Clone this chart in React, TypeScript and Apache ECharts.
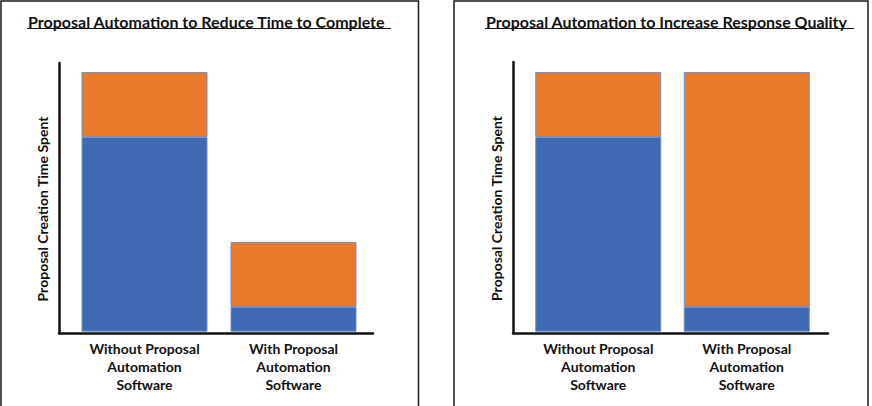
import React, { useEffect, useRef } from 'react';
import * as echarts from 'echarts';

// chart data
const categories = ['Without Proposal\nAutomation\nSoftware', 'With Proposal\nAutomation\nSoftware'];
const reduceTimeBlue = [75, 9.5];
const reduceTimeOrange = [25, 25];
const qualityBlue = [75, 9.5];
const qualityOrange = [25, 90.5];
const panelTitles = ['Proposal Automation to Reduce Time to Complete', 'Proposal Automation to Increase Response Quality'];
const yAxisTitle = 'Proposal Creation Time Spent';

const BLUE = '#3F6AB3';
const ORANGE = '#E97A29';
const BAR_BORDER = '#6E8FCB';
const INK = '#111111';
const FONT = 'Lato';

const frameAxes = (gridIndex: number) => ({
  x: {
    type: 'category',
    gridIndex,
    data: [''],
    axisLine: { show: true, lineStyle: { color: INK, width: 2.5 } },
    axisTick: { show: false },
    axisLabel: { show: false },
  },
  y: {
    type: 'value',
    gridIndex,
    min: 0,
    max: 1,
    name: yAxisTitle,
    nameLocation: 'middle',
    nameRotate: 90,
    nameGap: 10,
    nameTextStyle: {
      fontFamily: FONT,
      fontWeight: 'bold',
      fontSize: 14,
      color: INK,
      padding: [0, 22, 0, 0],
    },
    axisLine: { show: true, lineStyle: { color: INK, width: 2.5 } },
    axisTick: { show: false },
    axisLabel: { show: false },
    splitLine: { show: false },
  },
});

const barAxes = (gridIndex: number) => ({
  x: {
    type: 'category',
    gridIndex,
    data: categories,
    axisLine: { show: false },
    axisTick: { show: false },
    axisLabel: {
      margin: 8,
      fontFamily: FONT,
      fontWeight: 'bold',
      fontSize: 14,
      lineHeight: 18,
      color: INK,
    },
  },
  y: {
    type: 'value',
    gridIndex,
    min: 0,
    max: 100,
    show: false,
  },
});

const stackSeries = (axisIndex: number, stack: string, blue: number[], orange: number[]) => [
  {
    name: 'Lower segment',
    type: 'bar',
    stack,
    xAxisIndex: axisIndex,
    yAxisIndex: axisIndex,
    data: blue,
    barWidth: 126,
    itemStyle: { color: BLUE, borderColor: BAR_BORDER, borderWidth: 1 },
  },
  {
    name: 'Upper segment',
    type: 'bar',
    stack,
    xAxisIndex: axisIndex,
    yAxisIndex: axisIndex,
    data: orange,
    barWidth: 126,
    itemStyle: { color: ORANGE, borderColor: BAR_BORDER, borderWidth: 1 },
  },
];

const App: React.FC = () => {
  const chartRef = useRef<HTMLDivElement>(null);

  useEffect(() => {
    document.body.style.margin = '0';
    if (!chartRef.current) return;
    const chart = echarts.init(chartRef.current, null, { renderer: 'svg' });

    const leftFrame = frameAxes(0);
    const leftBars = barAxes(1);
    const rightFrame = frameAxes(2);
    const rightBars = barAxes(3);

    const titleStyle = { fontFamily: FONT, fontWeight: 'bold', fontSize: 16, color: INK, lineHeight: 18 };

    const options = {
      animation: false,
      title: [
        { text: panelTitles[0], left: 28, top: 12, padding: 0, textStyle: titleStyle },
        { text: panelTitles[1], left: 486, top: 12, padding: 0, textStyle: titleStyle },
      ],
      grid: [
        { left: 59, top: 63, width: 314, height: 270 },
        { left: 70, top: 72, width: 298, height: 259.7 },
        { left: 513, top: 62, width: 315, height: 271 },
        { left: 524, top: 72, width: 297, height: 259.7 },
      ],
      xAxis: [leftFrame.x, leftBars.x, rightFrame.x, rightBars.x],
      yAxis: [leftFrame.y, leftBars.y, rightFrame.y, rightBars.y],
      series: [
        ...stackSeries(1, 'reduce', reduceTimeBlue, reduceTimeOrange),
        ...stackSeries(3, 'quality', qualityBlue, qualityOrange),
      ],
      graphic: [
        // panel borders
        { type: 'rect', shape: { x: 1, y: 1, width: 417.5, height: 420 }, style: { fill: 'none', stroke: '#1a1a1a', lineWidth: 1.5 } },
        { type: 'rect', shape: { x: 454, y: 1, width: 414, height: 420 }, style: { fill: 'none', stroke: '#1a1a1a', lineWidth: 1.5 } },
        // title underlines
        { type: 'line', shape: { x1: 27, y1: 28.5, x2: 391, y2: 28.5 }, style: { stroke: INK, lineWidth: 1.2 } },
        { type: 'line', shape: { x1: 485, y1: 28.5, x2: 854, y2: 28.5 }, style: { stroke: INK, lineWidth: 1.2 } },
      ],
    };

    chart.setOption(options);

    return () => {
      chart.dispose();
    };
  }, []);

  return <div ref={chartRef} style={{ width: '872px', height: '406px' }} />;
};

export default App;
